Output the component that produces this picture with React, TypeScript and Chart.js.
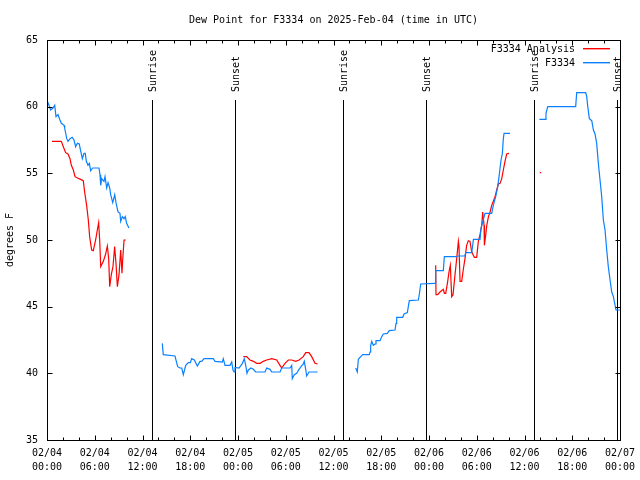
import React, { useEffect, useRef } from "react";
import { Chart, registerables } from "chart.js";

Chart.register(...registerables);

// ---- data (hours since 2025-02-04 00:00 UTC, dew point in °F) ----
const obsHours: number[] = [
  0.05, 0.25, 0.46, 0.75, 0.97, 1.13, 1.38, 1.63, 1.8, 2.14, 2.22, 2.48, 2.64, 2.89, 3.17, 3.39, 3.6, 3.81, 4.06, 4.15,
  4.44, 4.65, 4.81, 4.94, 5.15, 5.32, 5.49, 5.74, 6.53, 6.66, 6.75, 6.87, 7.16, 7.29, 7.5, 7.67, 7.88, 8.0, 8.26, 8.51,
  8.67, 8.92, 9.17, 9.26, 9.46, 9.68, 9.84, 10.0, 10.3,
  12,
  14.49, 14.61, 16.08, 16.42, 16.71, 16.93, 17.13, 17.43, 17.76, 18.01, 18.18, 18.51, 18.89, 19.23, 19.44, 19.73, 20.9,
  21.11, 22.03, 22.15, 22.37, 23.0, 23.21, 23.37, 23.5, 23.62, 24.13, 24.55, 24.79, 24.97, 25.13, 25.3, 25.63, 25.93,
  26.22, 27.39, 27.61, 28.02, 28.24, 29.28, 29.49, 30.54, 30.75, 30.82, 31.07, 31.37, 31.67, 31.92, 32.2, 32.33, 32.51,
  32.63, 32.92, 34.0,
  36,
  38.79, 38.99, 39.12, 39.33, 39.67, 40.5, 40.59, 40.67, 40.8, 41.0, 41.22, 41.34, 41.84, 42.06, 42.26, 42.76, 43.01,
  43.73, 43.86, 43.94, 44.7, 44.86, 45.28, 45.4, 45.53, 46.66, 46.79, 46.96, 48.76, 48.84, 49.8, 49.93, 51.48, 51.6,
  52.5, 52.62, 53.37, 53.58, 54.41, 54.54, 55.04, 55.88, 56.08, 56.38, 56.63, 56.8, 57.05, 57.22, 57.34, 57.43, 58.18,
  60,
  61.87, 62.58, 62.7, 62.92, 66.43, 66.56, 67.69, 67.82, 67.95, 68.15, 68.45, 68.66, 68.86, 69.07, 69.28, 69.49, 69.7,
  69.91, 70.12, 70.33, 70.53, 70.75, 70.96, 71.17, 71.38, 71.5, 72.0,
];
const obsDew: (number | null)[] = [
  60.4, 60.1, 59.75, 59.9, 60.1, 59.25, 59.4, 59.0, 58.75, 58.6, 58.4, 57.6, 57.4, 57.6, 57.7, 57.5, 57.0, 57.25, 57.2, 56.9,
  56.1, 56.5, 56.5, 55.9, 55.6, 55.75, 55.2, 55.4, 55.4, 54.9, 54.1, 54.6, 54.4, 54.75, 53.9, 54.3, 53.9, 53.4, 52.8, 53.4,
  52.8, 52.1, 52.0, 51.4, 51.75, 51.6, 51.75, 51.25, 50.9,
  null,
  42.25, 41.4, 41.3, 40.5, 40.4, 40.4, 39.9, 40.6, 40.8, 40.8, 41.1, 41.0, 40.55, 40.9, 40.9, 41.1, 41.1,
  40.9, 40.85, 41.1, 40.6, 40.6, 40.85, 40.25, 40.1, 40.45, 40.4, 40.75, 41.1, 40.6, 40.0, 40.25, 40.4, 40.3,
  40.1, 40.1, 40.4, 40.3, 40.1, 40.1, 40.4, 40.4, 40.6, 39.6, 39.9, 40.0, 40.3, 40.5, 40.7, 40.9, 40.3,
  39.8, 40.1, 40.1,
  null,
  40.4, 40.1, 41.05, 41.2, 41.4, 41.4, 41.6, 42.1, 42.4, 42.1, 42.2, 42.45, 42.45, 42.75, 42.95, 43.0, 43.2,
  43.25, 43.75, 44.2, 44.2, 44.45, 44.55, 45.0, 45.45, 45.5, 45.95, 46.7, 46.75, 47.7, 47.7, 48.75, 48.75, 48.8,
  48.8, 49.05, 49.05, 50.05, 50.05, 50.9, 52.0, 52.0, 52.6, 53.25, 54.0, 54.75, 56.0, 56.5, 57.6, 58.0, 58.0,
  null,
  59.05, 59.05, 59.5, 60.0, 60.0, 61.05, 61.05, 60.75, 60.0, 59.1, 58.95, 58.25, 57.95, 57.25, 55.75, 54.5, 53.25,
  51.5, 50.75, 49.25, 48.0, 47.0, 46.1, 45.75, 45.1, 44.75, 44.75,
];

const anaHours: number[] = [
  0.63, 1.21, 1.8, 2.05, 2.34, 2.64, 2.89, 3.06, 3.31, 3.52, 4.02, 4.56, 4.73, 4.98, 5.19, 5.36, 5.61, 5.82, 6.11, 6.32,
  6.49, 6.62, 6.75, 7.08, 7.37, 7.58, 7.75, 7.88, 8.08, 8.29, 8.5, 8.67, 8.84, 9.05, 9.26, 9.42, 9.51, 9.68, 9.89,
  16,
  24.67, 25.09, 25.5, 25.93, 26.35, 26.77, 27.18, 27.6, 28.24, 28.86, 29.28, 29.49, 29.91, 30.32, 30.75, 31.25, 31.67,
  32.2, 32.51, 32.92, 33.26, 33.68, 34.0,
  40,
  48.84, 48.88, 49.09, 49.38, 49.8, 49.93, 50.1, 50.35, 50.51, 50.68, 50.85, 51.02, 51.27, 51.48, 51.69, 51.77, 51.9,
  52.11, 52.3, 52.52, 52.73, 52.94, 53.15, 53.37, 53.7, 53.99, 54.2, 54.41, 54.62, 54.75, 54.92, 54.96, 55.13, 55.26,
  55.47, 55.67, 55.88, 56.08, 56.3, 56.51, 56.72, 56.93, 57.14, 57.34, 57.55, 57.76, 58.05,
  60,
  61.92, 62.1,
];
const anaDew: (number | null)[] = [
  57.4, 57.4, 57.4, 57.0, 56.55, 56.45, 56.1, 55.6, 55.25, 54.75, 54.6, 54.45, 53.6, 52.6, 51.5, 50.25, 49.25, 49.2, 50.0, 50.75,
  51.3, 50.0, 48.0, 48.4, 48.95, 49.55, 48.6, 46.5, 47.4, 48.0, 49.5, 48.25, 46.5, 47.4, 49.25, 47.5, 48.5, 50.0, 50.0,
  null,
  41.25, 41.25, 41.0, 40.9, 40.75, 40.75, 40.9, 41.0, 41.1, 41.0, 40.6, 40.4, 40.75, 41.0, 41.0, 40.9, 41.0,
  41.25, 41.55, 41.55, 41.25, 40.75, 40.7,
  null,
  48.1, 45.9, 45.9, 46.1, 46.3, 46.0, 46.0, 46.9, 47.6, 48.1, 45.75, 45.9, 47.4, 48.6, 49.9, 49.5, 46.9,
  46.9, 47.75, 48.6, 49.6, 49.95, 49.9, 49.1, 48.7, 48.7, 49.9, 50.4, 51.1, 52.1, 51.1, 49.6, 50.4, 51.1,
  51.75, 52.1, 52.6, 52.9, 53.25, 53.75, 54.2, 54.25, 54.6, 55.25, 55.9, 56.45, 56.5,
  null,
  55.05, 55.05,
];

const sunHours: number[] = [13.17, 23.6, 37.15, 47.6, 61.2, 71.65];
const sunLabels: string[] = ["Sunrise", "Sunset", "Sunrise", "Sunset", "Sunrise", "Sunset"];

const xTickHours: number[] = [0, 6, 12, 18, 24, 30, 36, 42, 48, 54, 60, 66, 72];
const xTickDates: string[] = ["02/04", "02/04", "02/04", "02/04", "02/05", "02/05", "02/05", "02/05", "02/06", "02/06", "02/06", "02/06", "02/07"];
const xTickTimes: string[] = ["00:00", "06:00", "12:00", "18:00", "00:00", "06:00", "12:00", "18:00", "00:00", "06:00", "12:00", "18:00", "00:00"];
const yTicks: number[] = [35, 40, 45, 50, 55, 60, 65];

const seriesNames: string[] = ["F3334 Analysis", "F3334"];
const seriesColors: string[] = ["#ff0000", "#0a80ff"];

const TITLE = "Dew Point for F3334 on 2025-Feb-04 (time in UTC)";
const Y_TITLE = "degrees F";
const FONT = '10px "DejaVu Sans Mono", "Liberation Mono", monospace';

const gnuplotPlugin = {
  id: "gnuplotDecor",
  beforeDatasetsDraw(chart: any) {
    const { ctx, chartArea: a, scales } = chart;
    const x = scales.x;
    ctx.save();
    ctx.strokeStyle = "#000";
    ctx.fillStyle = "#000";
    ctx.lineWidth = 1;
    ctx.font = FONT;
    sunHours.forEach((h, i) => {
      const px = Math.round(x.getPixelForValue(h)) + 0.5;
      ctx.beginPath();
      ctx.moveTo(px, a.top + 60);
      ctx.lineTo(px, a.bottom);
      ctx.stroke();
      ctx.save();
      ctx.translate(px + 1, a.top + 52);
      ctx.rotate(-Math.PI / 2);
      ctx.textAlign = "left";
      ctx.textBaseline = "middle";
      ctx.fillText(sunLabels[i], 0, 0);
      ctx.restore();
    });
    ctx.restore();
  },
  afterDatasetsDraw(chart: any) {
    const { ctx, chartArea: a, scales } = chart;
    const x = scales.x;
    const y = scales.y;
    ctx.save();
    ctx.strokeStyle = "#000";
    ctx.fillStyle = "#000";
    ctx.lineWidth = 1;
    const L = Math.round(a.left) + 0.5;
    const R = Math.round(a.right) + 0.5;
    const T = Math.round(a.top) + 0.5;
    const B = Math.round(a.bottom) + 0.5;
    ctx.strokeRect(L, T, R - L, B - T);

    ctx.beginPath();
    for (let h = 0; h <= 72; h += 2) {
      const px = Math.round(x.getPixelForValue(h)) + 0.5;
      const len = h % 6 === 0 ? 5 : 3;
      ctx.moveTo(px, B);
      ctx.lineTo(px, B - len);
      ctx.moveTo(px, T);
      ctx.lineTo(px, T + len);
    }
    yTicks.forEach((v) => {
      const py = Math.round(y.getPixelForValue(v)) + 0.5;
      ctx.moveTo(L, py);
      ctx.lineTo(L + 5, py);
      ctx.moveTo(R, py);
      ctx.lineTo(R - 5, py);
    });
    ctx.stroke();

    ctx.font = FONT;
    ctx.textBaseline = "middle";
    ctx.textAlign = "right";
    yTicks.forEach((v) => {
      ctx.fillText(String(v), a.left - 9, y.getPixelForValue(v));
    });
    ctx.textAlign = "center";
    xTickHours.forEach((h, i) => {
      const px = x.getPixelForValue(h);
      ctx.fillText(xTickDates[i], px, a.bottom + 13);
      ctx.fillText(xTickTimes[i], px, a.bottom + 27);
    });

    ctx.fillText(TITLE, (a.left + a.right) / 2, 20);

    ctx.save();
    ctx.translate(10, (a.top + a.bottom) / 2);
    ctx.rotate(-Math.PI / 2);
    ctx.textAlign = "center";
    ctx.fillText(Y_TITLE, 0, 0);
    ctx.restore();

    seriesNames.forEach((name, i) => {
      const ly = Math.round(a.top + 9 + i * 14);
      ctx.textAlign = "right";
      ctx.fillStyle = "#000";
      ctx.fillText(name, a.right - 45, ly);
      ctx.fillStyle = seriesColors[i];
      ctx.fillRect(Math.round(a.right - 37), ly - 1, 27, 1.4);
    });
    ctx.restore();
  },
};

export default function App() {
  const canvasRef = useRef<HTMLCanvasElement | null>(null);

  useEffect(() => {
    const canvas = canvasRef.current;
    if (!canvas) return;
    const obsData = obsHours.map((h, i) => ({ x: h, y: obsDew[i] }));
    const anaData = anaHours.map((h, i) => ({ x: h, y: anaDew[i] }));
    const chart = new Chart(canvas, {
      type: "line",
      data: {
        datasets: [
          {
            label: seriesNames[1],
            data: obsData as any,
            borderColor: seriesColors[1],
            borderWidth: 1.2,
            pointRadius: 0,
            tension: 0,
            spanGaps: false,
            fill: false,
          },
          {
            label: seriesNames[0],
            data: anaData as any,
            borderColor: seriesColors[0],
            borderWidth: 1.2,
            pointRadius: 0,
            tension: 0,
            spanGaps: false,
            fill: false,
          },
        ],
      },
      options: {
        animation: false,
        responsive: false,
        maintainAspectRatio: false,
        devicePixelRatio: 1,
        layout: { padding: { left: 47, top: 40, right: 20, bottom: 40 } },
        scales: {
          x: { type: "linear", min: 0, max: 72, display: false },
          y: { type: "linear", min: 35, max: 65, display: false },
        },
        plugins: {
          legend: { display: false },
          title: { display: false },
          tooltip: { enabled: false },
        },
        events: [],
      },
      plugins: [gnuplotPlugin],
    });
    return () => chart.destroy();
  }, []);

  return (
    <div style={{ position: "absolute", left: 0, top: 0, width: 640, height: 480, background: "#fff" }}>
      <canvas ref={canvasRef} width={640} height={480} style={{ width: 640, height: 480 }} />
    </div>
  );
}
